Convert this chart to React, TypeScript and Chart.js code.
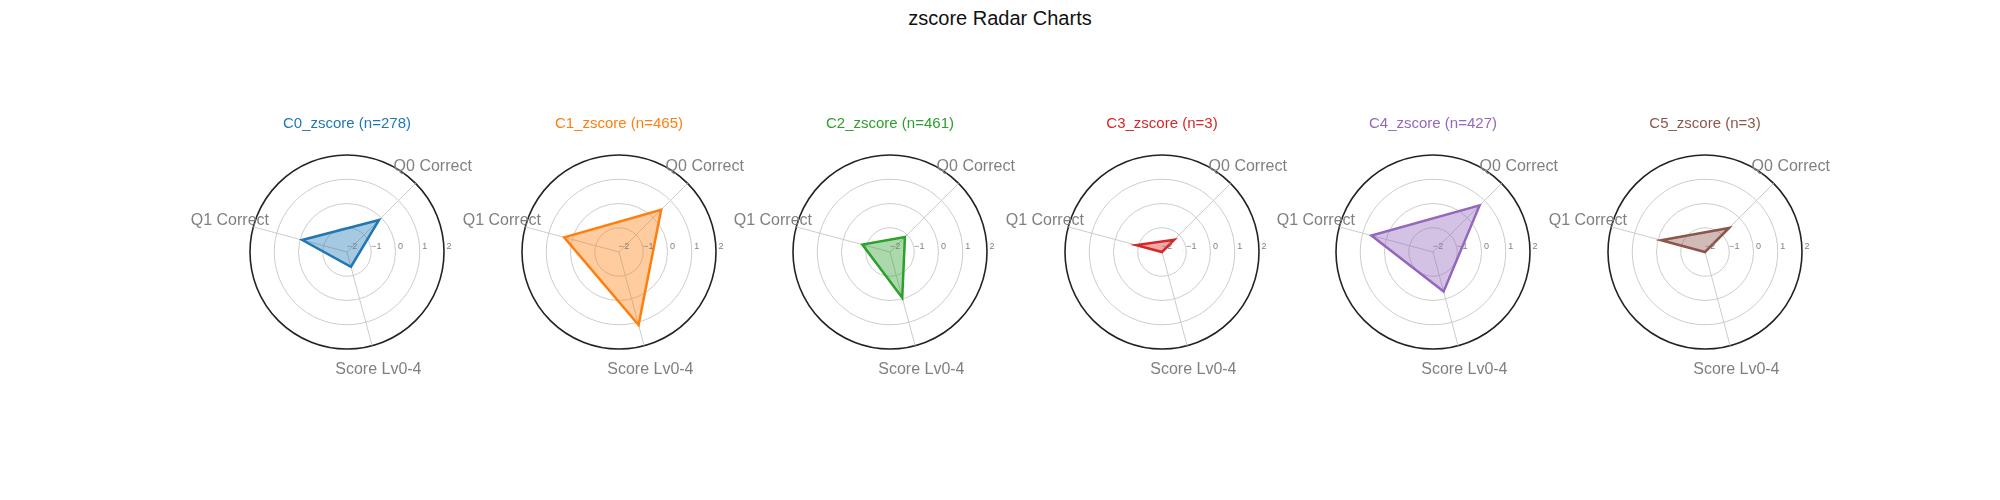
import React, { useEffect, useRef } from "react";
import { Chart, registerables } from "chart.js";

Chart.register(...registerables);

const axisLabels = ["Q0 Correct", "Score Lv0-4", "Q1 Correct"];
const clusterNames = ["C0_zscore", "C1_zscore", "C2_zscore", "C3_zscore", "C4_zscore", "C5_zscore"];
const clusterSizes = [278, 465, 461, 3, 427, 3];
const colors = ["#1f77b4", "#ff7f0e", "#2ca02c", "#d62728", "#9467bd", "#8c564b"];
// order: Q0 Correct, Score Lv0-4, Q1 Correct
const c0 = [-0.13, -1.37, -0.09];
const c1 = [0.46, 1.12, 0.34];
const c2 = [-1.13, -0.05, -0.82];
const c3 = [-1.28, -2.0, -0.9];
const c4 = [0.72, -0.31, 0.63];
const c5 = [-0.6, -2.0, -0.13];
const seriesValues = [c0, c1, c2, c3, c4, c5];
const tickValues = [-2, -1, 0, 1, 2];

const FONT = "'Liberation Sans', Arial, sans-serif";
const W = 360;
const H = 500;
const R = 97;
const CY = 252;

function Radar({ idx }: { idx: number }) {
  const ref = useRef<HTMLCanvasElement>(null);
  useEffect(() => {
    if (!ref.current) return;
    const color = colors[idx];
    const overlay = {
      id: "overlay",
      afterDraw(chart: any) {
        const ctx = chart.ctx;
        const s = chart.scales.r;
        ctx.save();
        ctx.textAlign = "center";
        ctx.textBaseline = "middle";
        ctx.fillStyle = color;
        ctx.font = `15px ${FONT}`;
        ctx.fillText(`${clusterNames[idx]} (n=${clusterSizes[idx]})`, s.xCenter, 124);
        ctx.fillStyle = "#808080";
        ctx.font = `16px ${FONT}`;
        axisLabels.forEach((l, i) => {
          const p = s.getPointPosition(i, s.drawingArea * 1.25);
          ctx.fillText(l, p.x, p.y);
        });
        ctx.font = `9px ${FONT}`;
        tickValues.forEach((v) => {
          const d = s.getDistanceFromCenterForValue(v);
          ctx.fillText(v < 0 ? "\u2212" + Math.abs(v) : String(v), s.xCenter + d + 5, s.yCenter - 5);
        });
        ctx.restore();
      },
    };
    const chart = new Chart(ref.current, {
      type: "radar",
      data: {
        labels: axisLabels,
        datasets: [
          {
            data: seriesValues[idx],
            borderColor: color,
            backgroundColor: color + "66",
            borderWidth: 2.5,
            fill: "start",
            pointRadius: 0,
          },
        ],
      },
      options: {
        animation: false,
        responsive: false,
        layout: { padding: { top: CY - R, bottom: H - CY - R, left: (W - 2 * R) / 2, right: (W - 2 * R) / 2 } },
        plugins: { legend: { display: false }, tooltip: { enabled: false } },
        scales: {
          r: {
            min: -2,
            max: 2,
            startAngle: 45,
            ticks: { stepSize: 1, display: false },
            pointLabels: { display: false },
            grid: {
              circular: true,
              color: (c: any) => (c.tick && c.tick.value === 2 ? "#222222" : "#cccccc"),
              lineWidth: (c: any) => (c.tick && c.tick.value === 2 ? 1.6 : 1),
            },
            angleLines: { color: "#cccccc", lineWidth: 1 },
          },
        },
      },
      plugins: [overlay],
    });
    return () => chart.destroy();
  }, [idx]);
  return (
    <canvas
      ref={ref}
      width={W}
      height={H}
      style={{ position: "absolute", left: Math.round(347 + idx * 271.5 - W / 2), top: 0, width: W, height: H }}
    />
  );
}

export default function App() {
  useEffect(() => {
    document.body.style.margin = "0";
  }, []);
  return (
    <div style={{ position: "relative", width: 2000, height: 500, background: "#fff", fontFamily: FONT }}>
      <div style={{ position: "absolute", top: 7, left: 0, width: 2000, textAlign: "center", fontSize: 20, color: "#111" }}>
        zscore Radar Charts
      </div>
      {colors.map((_, i) => (
        <Radar key={i} idx={i} />
      ))}
    </div>
  );
}
